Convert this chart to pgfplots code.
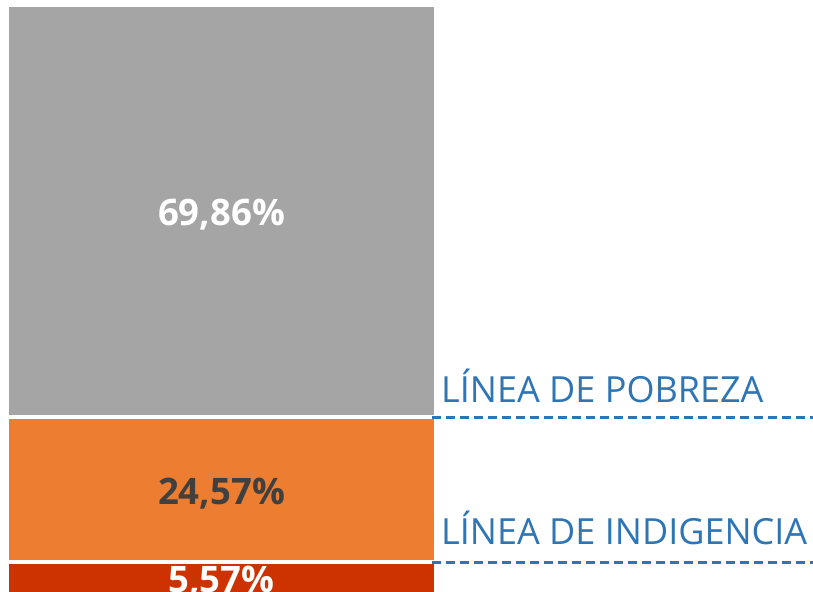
\documentclass[border=0pt]{standalone}
\usepackage{pgfplots}
\pgfplotsset{compat=1.18}
\usepackage{fontspec}
\setmainfont{Open Sans}
\definecolor{grisbar}{HTML}{A5A5A5}
\definecolor{naranja}{HTML}{ED7D31}
\definecolor{rojo}{HTML}{CC3300}
\definecolor{azul}{HTML}{2E75B6}
\definecolor{oscuro}{HTML}{404040}
\begin{document}
\begin{tikzpicture}
\useasboundingbox (0,0) rectangle (813bp,592bp);
\clip (0,0) rectangle (813bp,592bp);
% bar axis reaches below the page so the red segment runs to the bottom edge
\begin{axis}[
    at={(0,-8.85bp)}, anchor=south west,
    scale only axis, width=813bp, height=600.86bp,
    hide axis,
    xmin=0, xmax=813, ymin=-1, ymax=100.81,
    ybar stacked, bar width=429.5,
    clip=false,
]
% indigencia, pobreza, no pobres
\addplot[fill=rojo, draw=white, line width=4.5bp] coordinates {(221.5,5.57)};
\addplot[fill=naranja, draw=white, line width=4.5bp] coordinates {(221.5,24.57)};
\addplot[fill=grisbar, draw=white, line width=4.5bp] coordinates {(221.5,69.86)};
\end{axis}
\begin{axis}[
    at={(0,0)}, anchor=south west,
    scale only axis, width=813bp, height=592bp,
    hide axis,
    xmin=0, xmax=813, ymin=0.5, ymax=100.81,
    clip=false,
]
\addplot[azul, line width=3bp, dash pattern=on 9bp off 5bp] coordinates {(432,30.14) (813,30.14)};
\addplot[azul, line width=3bp, dash pattern=on 9bp off 5bp] coordinates {(432,5.57) (813,5.57)};
\node[anchor=base west, text=azul, font=\fontsize{36bp}{42bp}\selectfont, inner sep=0pt] at (axis cs:441,32.6) {LÍNEA DE POBREZA};
\node[anchor=base west, text=azul, font=\fontsize{36bp}{42bp}\selectfont, inner sep=0pt] at (axis cs:441,8.5) {LÍNEA DE INDIGENCIA};
\node[text=white, font=\bfseries\fontsize{36.5bp}{42bp}\selectfont] at (axis cs:221.5,64.4) {69,86\%};
\node[text=oscuro, font=\bfseries\fontsize{36.5bp}{42bp}\selectfont] at (axis cs:221.5,17.2) {24,57\%};
\node[text=white, font=\bfseries\fontsize{36.5bp}{42bp}\selectfont] at (axis cs:221.5,2.3) {5,57\%};
\end{axis}
\end{tikzpicture}
\end{document}
